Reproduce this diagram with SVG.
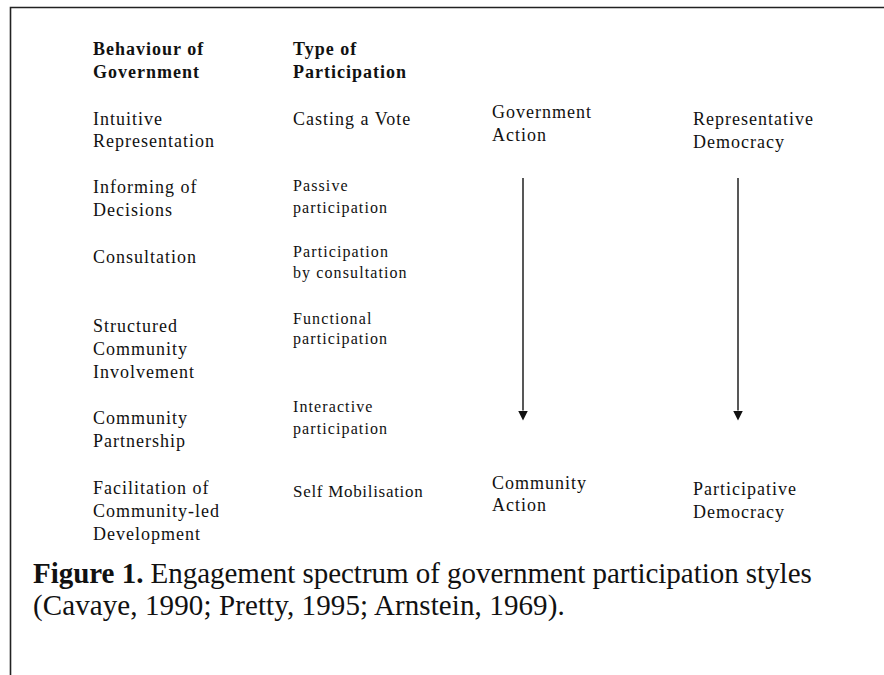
<svg xmlns="http://www.w3.org/2000/svg" width="884" height="675" viewBox="0 0 884 675">
  <style>
    .t { font-family: "Liberation Serif", "Times New Roman", serif; fill: #111; }
    .b { font-size: 18px; letter-spacing: 1px; }
    .s { font-size: 16px; letter-spacing: 1.1px; }
    .m { font-size: 17px; letter-spacing: 0.7px; }
    .h { font-weight: bold; }
    .cap { font-size: 29px; letter-spacing: 0.1px; }
    .cap1 { letter-spacing: -0.03px; }
    .frame { stroke: #222; stroke-width: 1.6; fill: none; }
    .arrow { stroke: #111; stroke-width: 1.4; fill: none; }
  </style>
  <defs>
    <marker id="head" viewBox="0 0 10 10" refX="0" refY="5" markerWidth="10" markerHeight="10" markerUnits="userSpaceOnUse" orient="auto">
      <path d="M0,0 L10,5 L0,10 z" fill="#111"/>
    </marker>
  </defs>
  <rect width="884" height="675" fill="#fff"/>

  <!-- page frame -->
  <path class="frame" d="M10.5,675 V7.5 H884"/>

  <!-- column headings -->
  <g id="head-behaviour">
    <text class="t b h" x="93" y="55">Behaviour of</text>
    <text class="t b h" x="93" y="78">Government</text>
  </g>
  <g id="head-participation">
    <text class="t b h" x="293" y="55">Type of</text>
    <text class="t b h" x="293" y="78">Participation</text>
  </g>

  <!-- behaviour of government -->
  <g id="b-intuitive">
    <text class="t b" x="93" y="125">Intuitive</text>
    <text class="t b" x="93" y="147">Representation</text>
  </g>
  <g id="b-informing">
    <text class="t b" x="93" y="193">Informing of</text>
    <text class="t b" x="93" y="216">Decisions</text>
  </g>
  <g id="b-consultation">
    <text class="t b" x="93" y="263">Consultation</text>
  </g>
  <g id="b-structured">
    <text class="t b" x="93" y="332">Structured</text>
    <text class="t b" x="93" y="355">Community</text>
    <text class="t b" x="93" y="378">Involvement</text>
  </g>
  <g id="b-partnership">
    <text class="t b" x="93" y="424">Community</text>
    <text class="t b" x="93" y="447">Partnership</text>
  </g>
  <g id="b-facilitation">
    <text class="t b" x="93" y="494">Facilitation of</text>
    <text class="t b" x="93" y="517">Community-led</text>
    <text class="t b" x="93" y="540">Development</text>
  </g>

  <!-- type of participation -->
  <g id="p-vote">
    <text class="t b" x="293" y="125">Casting a Vote</text>
  </g>
  <g id="p-passive">
    <text class="t s" x="293" y="191">Passive</text>
    <text class="t s" x="293" y="213">participation</text>
  </g>
  <g id="p-consultation">
    <text class="t s" x="293" y="257">Participation</text>
    <text class="t s" x="293" y="278">by consultation</text>
  </g>
  <g id="p-functional">
    <text class="t s" x="293" y="324">Functional</text>
    <text class="t s" x="293" y="344">participation</text>
  </g>
  <g id="p-interactive">
    <text class="t s" x="293" y="412">Interactive</text>
    <text class="t s" x="293" y="434">participation</text>
  </g>
  <g id="p-self">
    <text class="t m" x="293" y="497">Self Mobilisation</text>
  </g>

  <!-- spectrum ends -->
  <g id="gov-action">
    <text class="t b" x="492" y="118">Government</text>
    <text class="t b" x="492" y="141">Action</text>
  </g>
  <g id="community-action">
    <text class="t b" x="492" y="489">Community</text>
    <text class="t b" x="492" y="511">Action</text>
  </g>
  <g id="rep-democracy">
    <text class="t b" x="693" y="125">Representative</text>
    <text class="t b" x="693" y="148">Democracy</text>
  </g>
  <g id="part-democracy">
    <text class="t b" x="693" y="495">Participative</text>
    <text class="t b" x="693" y="518">Democracy</text>
  </g>

  <!-- connectors -->
  <g id="connectors">
    <line class="arrow" x1="523" y1="178" x2="523" y2="410.5" marker-end="url(#head)"/>
    <line class="arrow" x1="738" y1="178" x2="738" y2="410.5" marker-end="url(#head)"/>
  </g>

  <!-- caption -->
  <g id="caption">
    <text class="t cap cap1" x="33" y="583"><tspan font-weight="bold">Figure 1.</tspan> Engagement spectrum of government participation styles</text>
    <text class="t cap" x="33" y="615">(Cavaye, 1990; Pretty, 1995; Arnstein, 1969).</text>
  </g>
</svg>
